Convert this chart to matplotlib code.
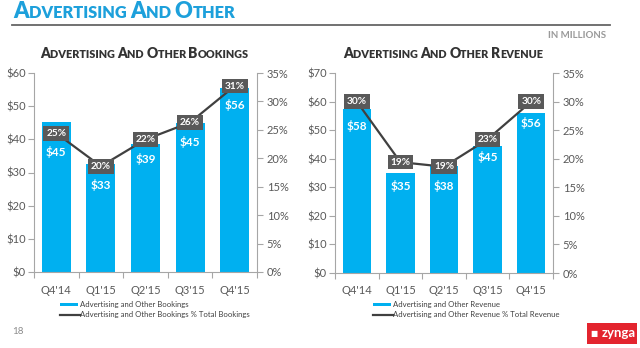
import numpy as np
import matplotlib
matplotlib.use("Agg")
import matplotlib.pyplot as plt
from matplotlib.offsetbox import TextArea, HPacker, AnnotationBbox
from matplotlib.patches import Rectangle
from matplotlib.lines import Line2D

# ---------------- data ----------------
quarters = ["Q4'14", "Q1'15", "Q2'15", "Q3'15", "Q4'15"]

bookings = [45.2, 32.6, 38.5, 45.0, 55.6]
bookings_labels = ["$45", "$33", "$39", "$45", "$56"]
bookings_pct = [24.4, 18.6, 23.3, 26.3, 32.7]
bookings_pct_labels = ["25%", "20%", "22%", "26%", "31%"]

revenue = [57.4, 35.1, 37.5, 44.5, 56.1]
revenue_labels = ["$58", "$35", "$38", "$45", "$56"]
revenue_pct = [30.0, 19.4, 18.6, 23.4, 30.0]
revenue_pct_labels = ["30%", "19%", "19%", "23%", "30%"]

left_yticks = [0, 10, 20, 30, 40, 50, 60]
right_yticks_l = [0, 10, 20, 30, 40, 50, 60, 70]
pct_ticks = [0, 5, 10, 15, 20, 25, 30, 35]

# ---------------- style ----------------
W, H = 640, 348
BAR = "#00B0F0"
LINE = "#404040"
BOX = "#595959"
AXC = "#A6A6A6"
TXT = "#595959"
TITLE_C = "#1DA0DB"
FONT = ["Lato", "DejaVu Sans"]
plt.rcParams["font.family"] = FONT

fig = plt.figure(figsize=(W / 100, H / 100), dpi=100)
fig.patch.set_facecolor("white")


def fx(x):
    return x / W


def fy(y):
    return 1 - y / H


def small_caps(text, x, y, big, small, color, weight="bold", ha=0.0):
    parts = []
    buf = ""
    mode = None
    for ch in text:
        m = "big" if (ch.isupper() or ch.isdigit()) else "small"
        if ch == " ":
            m = mode or "small"
        if mode is not None and m != mode:
            parts.append((buf, mode))
            buf = ""
        mode = m
        buf += ch
    if buf:
        parts.append((buf, mode))
    areas = []
    for s, m in parts:
        areas.append(TextArea(s.upper(), textprops=dict(
            fontsize=big if m == "big" else small, color=color,
            fontweight=weight, family=FONT)))
    pk = HPacker(children=areas, align="baseline", pad=0, sep=0)
    ab = AnnotationBbox(pk, (fx(x), fy(y)), xycoords="figure fraction",
                        box_alignment=(ha, 0.5), frameon=False, pad=0)
    fig.add_artist(ab)


# title & header
small_caps("Advertising And Other", 13, 11, 15.8, 11.8, TITLE_C, weight="heavy")
fig.add_artist(Line2D([fx(12), fx(610)], [fy(24.5), fy(24.5)],
                      transform=fig.transFigure, color="#666666", lw=1.3))
fig.text(fx(606), fy(35), "IN MILLIONS", ha="right", va="center",
         fontsize=7, color="#9A9A9A", fontweight="bold")
fig.text(fx(18), fy(332), "18", ha="center", va="center", fontsize=7, color="#8C8C8C")

# zynga logo
fig.add_artist(Rectangle((fx(587), fy(344)), fx(50), 21 / H,
                         transform=fig.transFigure, color="#E3242E", lw=0))
fig.text(fx(619), fy(333), "zynga", ha="center", va="center",
         fontsize=9.5, color="white", fontweight="bold")
fig.text(fx(594), fy(333.5), "\u25A0", ha="center", va="center",
         fontsize=5.5, color="white")


def make_chart(rect, vals, vlabels, pcts, plabels, ymax, yticks, drops,
               subtitle, sub_x, leg_x, leg1, leg2):
    ax = fig.add_axes(rect)
    x = np.arange(len(quarters))
    ax.bar(x, vals, width=0.65, color=BAR, zorder=2)
    ax.set_xlim(-0.5, len(quarters) - 0.5)
    ax.set_ylim(0, ymax)
    ax.set_yticks(yticks)
    ax.set_yticklabels([f"${t}" for t in yticks])
    ax.set_xticks(x)
    ax.set_xticklabels(quarters)
    ax.set_xticks(np.arange(-0.5, len(quarters)), minor=True)
    ax.tick_params(axis="x", which="major", length=0, pad=9, labelsize=8, colors=TXT)
    ax.tick_params(axis="x", which="minor", length=4, color=AXC, width=0.8)
    ax.tick_params(axis="y", length=4, color=AXC, width=0.8, labelsize=8,
                   colors=TXT, pad=2)
    for s in ["top", "right"]:
        ax.spines[s].set_visible(False)
    for s in ["left", "bottom"]:
        ax.spines[s].set_color(AXC)
        ax.spines[s].set_linewidth(0.8)
    for xi, v, lab, d in zip(x, vals, vlabels, drops):
        ax.annotate(lab, (xi, v), xytext=(0, -d * 0.72), textcoords="offset points",
                    ha="center", va="center", color="white", fontsize=8.5,
                    fontweight="bold", zorder=5)

    ax2 = ax.twinx()
    ax2.set_ylim(0, 35)
    ax2.set_yticks(pct_ticks)
    ax2.set_yticklabels([f"{t}%" for t in pct_ticks])
    ax2.tick_params(axis="y", length=4, color=AXC, width=0.8, labelsize=8,
                    colors=TXT, pad=3)
    for s in ["top", "left", "bottom"]:
        ax2.spines[s].set_visible(False)
    ax2.spines["right"].set_color(AXC)
    ax2.spines["right"].set_linewidth(0.8)
    ax2.plot(x, pcts, color=LINE, lw=1.6, zorder=3)
    for xi, p, lab in zip(x, pcts, plabels):
        ax2.text(xi, p, lab, ha="center", va="center", color="white",
                 fontsize=7.3, fontweight="bold", zorder=6,
                 bbox=dict(boxstyle="square,pad=0.28", fc=BOX, ec="none"))

    small_caps(subtitle, sub_x, 53, 10, 7.8, "#333333", weight="heavy")

    # legend
    fig.add_artist(Rectangle((fx(leg_x), fy(306)), fx(18), 3.5 / H,
                             transform=fig.transFigure, color=BAR, lw=0))
    fig.text(fx(leg_x + 20), fy(304.5), leg1, ha="left", va="center",
             fontsize=5.6, color="#404040")
    fig.add_artist(Line2D([fx(leg_x), fx(leg_x + 20)], [fy(315), fy(315)],
                          transform=fig.transFigure, color=LINE, lw=1.6))
    fig.text(fx(leg_x + 20), fy(315), leg2, ha="left", va="center",
             fontsize=5.6, color="#404040")


make_chart([fx(34), fy(272), 223 / W, 199 / H], bookings, bookings_labels,
           bookings_pct, bookings_pct_labels, 60, left_yticks,
           [30, 21, 15, 19, 17], "Advertising And Other Bookings", 40, 60,
           "Advertising and Other Bookings",
           "Advertising and Other Bookings % Total Bookings")

make_chart([fx(335), fy(273), 218 / W, 200 / H], revenue, revenue_labels,
           revenue_pct, revenue_pct_labels, 70, right_yticks_l,
           [17, 13, 20, 11, 10], "Advertising And Other Revenue", 343, 373,
           "Advertising and Other Revenue",
           "Advertising and Other Revenue % Total Revenue")

fig.savefig("out.png", dpi=100, facecolor="white")
